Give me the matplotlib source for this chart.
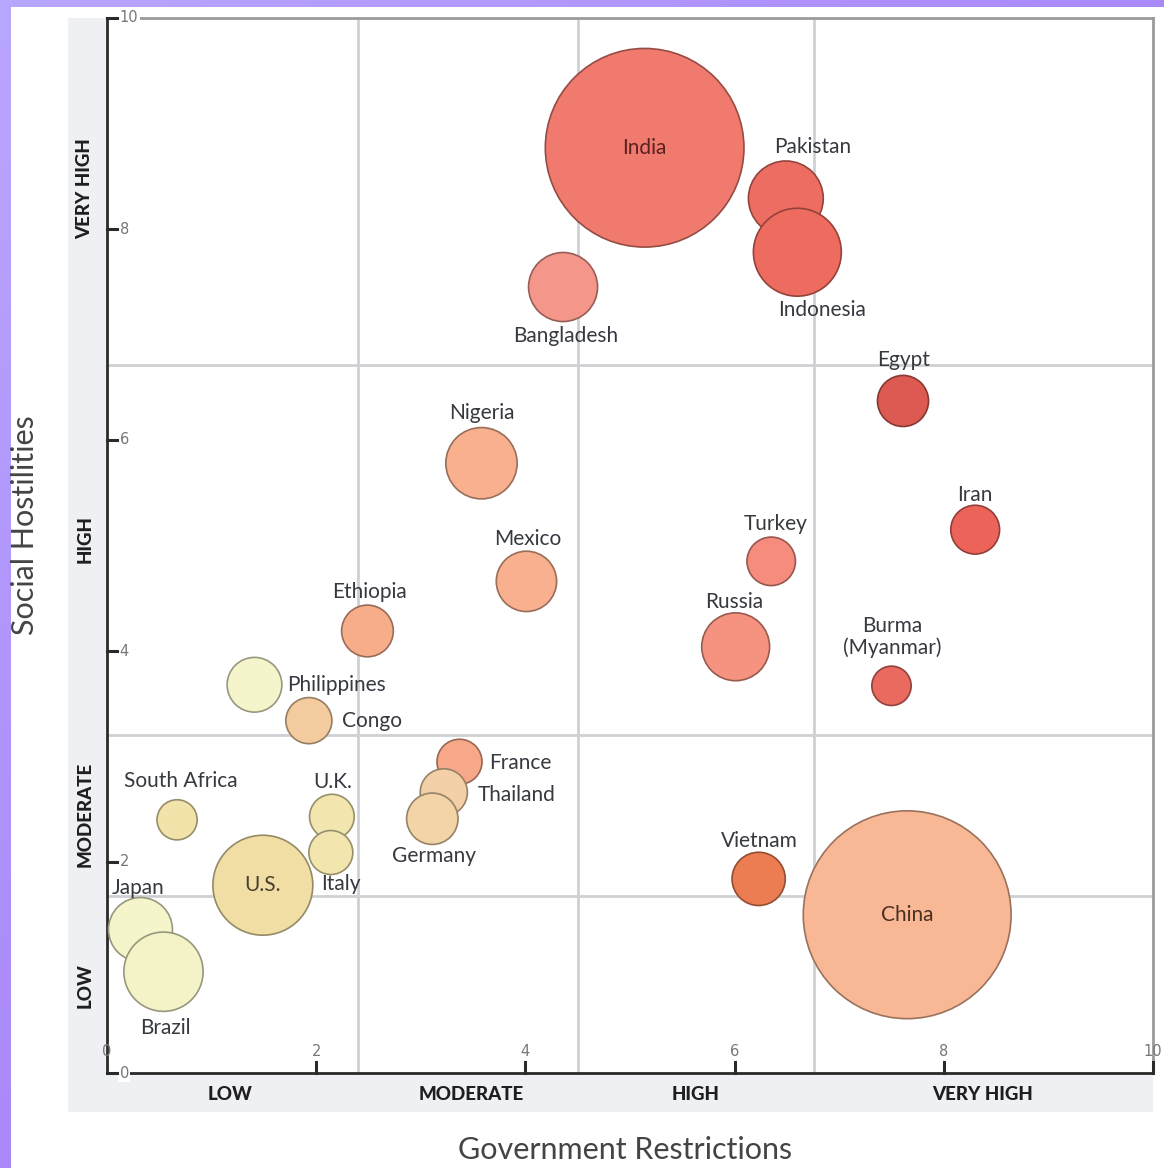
import matplotlib
matplotlib.use("Agg")
import matplotlib.pyplot as plt
import matplotlib.colors as mcolors
from matplotlib.patches import Rectangle
import numpy as np

plt.rcParams['font.family'] = ['Lato', 'DejaVu Sans']

# country data
countries = ["India", "Pakistan", "Indonesia", "Bangladesh", "Egypt", "Nigeria",
             "Iran", "Turkey", "Mexico", "Russia", "Ethiopia", "Burma\n(Myanmar)",
             "Philippines", "Congo", "France", "Thailand", "Germany", "South Africa",
             "U.K.", "Italy", "U.S.", "Vietnam", "China", "Japan", "Brazil"]
gov_restrictions = [5.14, 6.49, 6.60, 4.36, 7.61, 3.58, 8.30, 6.35, 4.01, 6.01, 2.49, 7.50,
                    1.41, 1.93, 3.37, 3.22, 3.11, 0.67, 2.15, 2.14, 1.49, 6.23, 7.65, 0.32, 0.54]
social_hostilities = [8.77, 8.29, 7.78, 7.45, 6.37, 5.78, 5.15, 4.85, 4.66, 4.04, 4.19, 3.67,
                      3.68, 3.34, 2.95, 2.66, 2.41, 2.40, 2.43, 2.09, 1.78, 1.84, 1.50, 1.36, 0.96]
population_m = [1225, 174, 240, 148, 81, 158, 74, 73, 113, 143, 83, 48,
                93, 66, 63, 69, 82, 50, 62, 60, 310, 88, 1341, 127, 195]
fill_colors = ["#f07a6e", "#ee6d62", "#ee6b5f", "#f5968a", "#dc5a52", "#f8b08f",
               "#ec6459", "#f58c7e", "#f8b08f", "#f59280", "#f7ac8a", "#ea6a60",
               "#f5f5cc", "#f3cb9e", "#f6a888", "#f4d0a8", "#f2d4a6", "#f2e3aa",
               "#f2e6ae", "#f2e6ae", "#f1dea4", "#ec7c52", "#f8b895", "#f5f5cb", "#f4f3c8"]

level_names = ["LOW", "MODERATE", "HIGH", "VERY HIGH"]
x_bounds = [2.4, 4.5, 6.76]
y_bounds = [1.68, 3.2, 6.71]
ticks = [2, 4, 6, 8]

# label placement: (dx px, dy px, ha) relative to bubble centre, None = inside
label_place = {
    "India": None, "U.S.": None, "China": None,
    "Pakistan": (27, 51, "center"), "Indonesia": (25, -58, "center"),
    "Bangladesh": (3, -49, "center"), "Egypt": (1, 41, "center"),
    "Nigeria": (0, 50, "center"), "Iran": (0, 35, "center"),
    "Turkey": (4, 37, "center"), "Mexico": (1, 42, "center"),
    "Russia": (-1, 45, "center"), "Ethiopia": (2, 39, "center"),
    "Burma\n(Myanmar)": (1, 49, "center"), "Philippines": (33, 0, "left"),
    "Congo": (33, 0, "left"), "France": (30, -1, "left"),
    "Thailand": (34, -3, "left"), "Germany": (2, -37, "center"),
    "South Africa": (4, 39, "center"), "U.K.": (1, 35, "center"),
    "Italy": (10, -31, "center"), "Vietnam": (1, 38, "center"),
    "Japan": (-2, 42, "center"), "Brazil": (2, -56, "center"),
}

W, H = 1164, 1168
fig = plt.figure(figsize=(W / 100, H / 100), dpi=100)

# purple gradient frame, white page and grey bands live in a background axes
bg = fig.add_axes([0, 0, 1, 1])
gx, gy = np.meshgrid(np.linspace(0, 1, 200), np.linspace(0, 1, 200))
grad = 0.5 * gx + 0.5 * gy
cmap = mcolors.LinearSegmentedColormap.from_list("pp", ["#b9a6ff", "#9b6cf6"])
bg.imshow(grad, cmap=cmap, aspect="auto", extent=[0, 1, 0, 1], origin="upper")
bg.set_xlim(0, 1)
bg.set_ylim(0, 1)
bg.set_axis_off()
bg.add_patch(Rectangle((11 / W, 0), 1, 1 - 7 / H, facecolor="white", edgecolor="none", zorder=2))
band = "#eef0f3"
bg.add_patch(Rectangle((68 / W, (H - 1073) / H), 38 / W, (1073 - 18) / H,
                       facecolor=band, edgecolor="none", zorder=3))
bg.add_patch(Rectangle((68 / W, (H - 1112) / H), (1153 - 68) / W, 39 / H,
                       facecolor=band, edgecolor="none", zorder=3))

ax = fig.add_axes([107 / W, (H - 1073) / H, (1153 - 107) / W, (1073 - 18) / H])
ax.set_zorder(2)
ax.set_facecolor("white")
ax.set_xlim(0, 10)
ax.set_ylim(0, 10)

for xb in x_bounds:
    ax.axvline(xb, color="#cfd0d3", lw=2, zorder=1)
for yb in y_bounds:
    ax.axhline(yb, color="#cfd0d3", lw=2, zorder=1)

edge_colors = [tuple(np.array(mcolors.to_rgb(c)) * 0.62) for c in fill_colors]
sizes = np.array(population_m) * 16.7
ax.scatter(gov_restrictions, social_hostilities, s=sizes, c=fill_colors,
           edgecolors=edge_colors, linewidths=1.2, zorder=3)

inside_colors = {"India": "#5a2222", "China": "#4a3020", "U.S.": "#4a4030"}
for name, gx_, gy_ in zip(countries, gov_restrictions, social_hostilities):
    place = label_place[name]
    if place is None:
        ax.text(gx_, gy_, name, ha="center", va="center", fontsize=15,
                color=inside_colors[name], zorder=5)
    else:
        dx, dy, ha = place
        ax.annotate(name, (gx_, gy_), xytext=(dx * 0.72, dy * 0.72),
                    textcoords="offset points", ha=ha, va="center",
                    fontsize=15, color="#363940", zorder=5, linespacing=1.05)

# axes frame
for side in ["left", "bottom"]:
    ax.spines[side].set_color("#2a2a2a")
    ax.spines[side].set_linewidth(2)
for side in ["top", "right"]:
    ax.spines[side].set_color("#9a9a9a")
    ax.spines[side].set_linewidth(2)
ax.set_xticks([])
ax.set_yticks([])

tick_kw = dict(color="#2a2a2a", lw=2.2, zorder=4, clip_on=False)
for t in ticks + [10]:
    ax.plot([t, t], [0, 0.1], **tick_kw)
    ax.text(t, 0.13, str(t), ha="center", va="bottom", fontsize=10.5, color="#777777",
            family="DejaVu Sans")
    ax.plot([0, 0.1], [t, t], **tick_kw)
    ax.text(0.12, t, str(t), ha="left", va="center", fontsize=10.5, color="#777777",
            family="DejaVu Sans", bbox=dict(facecolor="white", edgecolor="none", pad=1))
ax.plot([0, 0.1], [0, 0], **tick_kw)
ax.text(0, 0.13, "0", ha="center", va="bottom", fontsize=10.5, color="#777777", family="DejaVu Sans")
ax.text(0.12, 0, "0", ha="left", va="center", fontsize=10.5, color="#777777", family="DejaVu Sans",
        bbox=dict(facecolor="white", edgecolor="none", pad=1))

# level labels in the grey bands
x_pos = [1.18, 3.48, 5.63, 8.37]
y_pos = [0.83, 2.45, 5.06, 8.38]
for name, xp in zip(level_names, x_pos):
    ax.text(xp, -0.2, name, ha="center", va="center", fontsize=13.5, fontweight="black",
            color="#1e1e1e", clip_on=False)
for name, yp in zip(level_names, y_pos):
    ax.text(-0.21, yp, name, ha="center", va="center", rotation=90, fontsize=13.5,
            fontweight="black", color="#1e1e1e", clip_on=False)

fig.text(625 / W, 1 - 1150 / H, "Government Restrictions", ha="center", va="center",
         fontsize=22, color="#444444")
fig.text(25 / W, 1 - 525 / H, "Social Hostilities", ha="center", va="center",
         rotation=90, fontsize=22, color="#444444")

fig.savefig("out.png", dpi=100)
